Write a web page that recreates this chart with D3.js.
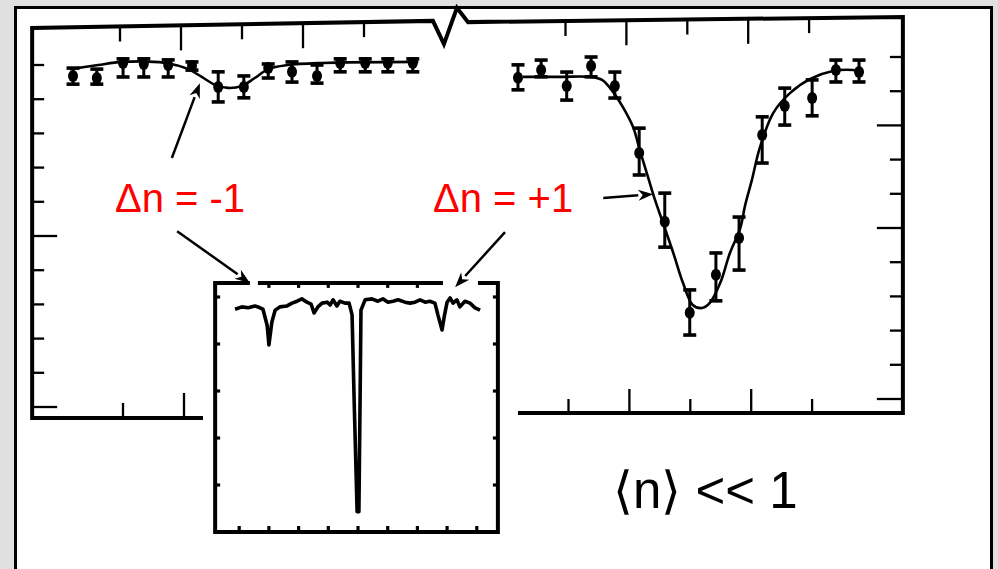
<!DOCTYPE html>
<html>
<head>
<meta charset="utf-8">
<script src="https://cdn.jsdelivr.net/npm/d3@7"></script>
<style>
  html, body { margin: 0; padding: 0; background: #e0e0e0; }
  svg { display: block; }
</style>
</head>
<body>
<svg id="chart" width="998" height="569"></svg>
<script>
// ---------- data ----------
// Lower (Δn = -1) sideband: detuning, fluorescence, error-bar limits
const lowerFreq   = [0.23, 0.62, 1.05, 1.39, 1.79, 2.18, 2.61, 3.03, 3.43, 3.82, 4.23, 4.61, 5.02, 5.39, 5.80];
const lowerSignal = [9.68, 9.62, 10.06, 10.03, 10.00, 9.97, 9.36, 9.36, 9.91, 9.80, 9.68, 10.06, 10.06, 10.06, 10.06];
const lowerErrHi  = [9.91, 9.88, 10.18, 10.18, 10.15, 10.09, 9.80, 9.68, 10.03, 10.09, 10.00, 10.18, 10.18, 10.18, 10.18];
const lowerErrLo  = [9.44, 9.44, 9.65, 9.65, 9.65, 9.85, 8.92, 9.04, 9.62, 9.50, 9.47, 9.80, 9.80, 9.80, 9.80];
// fitted line shape through the lower sideband
const lowerFitFreq   = [0.18, 0.64, 1.03, 1.74, 2.12, 2.34, 2.56, 2.77, 3.00, 3.21, 3.43, 3.75, 4.31, 5.89];
const lowerFitSignal = [9.88, 10.00, 10.09, 10.06, 9.88, 9.65, 9.42, 9.33, 9.39, 9.62, 9.88, 10.00, 10.06, 10.09];

// Upper (Δn = +1) sideband
const upperFreq   = [0.22, 0.60, 1.02, 1.42, 1.81, 2.21, 2.63, 3.04, 3.47, 3.85, 4.23, 4.60, 5.05, 5.44, 5.82];
const upperSignal = [9.39, 9.62, 9.15, 9.74, 9.15, 7.19, 5.18, 2.52, 3.63, 4.71, 7.72, 8.57, 8.80, 9.62, 9.56];
const upperErrHi  = [9.77, 9.91, 9.56, 10.00, 9.56, 7.92, 6.02, 3.19, 4.27, 5.32, 8.25, 9.09, 9.33, 9.91, 9.91];
const upperErrLo  = [9.04, 9.42, 8.74, 9.42, 8.80, 6.55, 4.44, 1.87, 2.87, 3.77, 6.90, 8.01, 8.28, 9.27, 9.27];
const upperFitFreq   = [0.30, 0.91, 1.40, 1.60, 1.78, 1.94, 2.11, 2.22, 2.36, 2.47, 2.60, 2.77, 2.93, 3.09, 3.24, 3.37,
                        3.54, 3.70, 3.87, 3.95, 4.06, 4.19, 4.41, 4.69, 5.02, 5.39, 5.72, 5.89];
const upperFitSignal = [9.42, 9.42, 9.42, 9.33, 8.98, 8.54, 7.95, 7.28, 6.46, 5.82, 5.15, 4.27, 3.39, 2.75, 2.66, 2.81,
                        3.39, 4.27, 5.00, 5.67, 6.40, 7.34, 8.36, 8.95, 9.36, 9.59, 9.62, 9.56];

// Inset: full spectrum (carrier plus both sidebands)
const spectrumFreq = [-4.14, -3.91, -3.70, -3.47, -3.30, -3.20, -3.06, -3.00, -2.90, -2.79, -2.63, -2.39, -2.22, -2.05,
  -1.89, -1.72, -1.58, -1.48, -1.35, -1.21, -1.04, -0.94, -0.84, -0.71, -0.61, -0.44, -0.30, -0.20, -0.13, -0.03,
  0.03, 0.07, 0.10, 0.24, 0.47, 0.67, 0.84, 1.01, 1.18, 1.35, 1.58, 1.75, 1.92, 2.09, 2.26, 2.42, 2.59, 2.69, 2.83,
  2.90, 3.00, 3.10, 3.20, 3.33, 3.43, 3.60, 3.77, 3.94, 4.11];
const spectrumSignal = [4.74, 4.79, 4.77, 4.81, 4.77, 4.74, 4.40, 3.98, 4.47, 4.72, 4.79, 4.81, 4.87, 4.91,
  4.96, 4.89, 4.85, 4.66, 4.79, 4.87, 4.89, 4.83, 4.94, 4.81, 4.91, 4.87, 4.87, 4.62, 2.81, 0.43,
  0.43, 2.81, 4.72, 4.94, 4.96, 4.91, 4.96, 4.89, 4.91, 4.94, 4.89, 4.87, 4.89, 4.94, 4.89, 4.91, 4.87, 4.62, 4.30,
  4.57, 4.89, 4.98, 4.87, 4.94, 4.79, 4.91, 4.87, 4.77, 4.72];

// Axis ticks
const mainXTicks = [1, 2, 3, 4, 5];
const mainXMajor = [2, 4];
const mainYTicks = [0, 1, 2, 3, 4, 5, 6, 7, 8, 9, 10];
const lowerYMajor = [0, 5];
const upperYMajor = [0, 5, 8];
const insetXTicks = [-4, -3, -2, -1, 0, 1, 2, 3, 4];
const insetTopTicks = [-3, -2, -1, 0, 1, 2];
const insetYTicks = [1, 2, 3, 4, 5];

// ---------- scales ----------
const xL = d3.scaleLinear().domain([1, 5]).range([120, 364]);
const yL = d3.scaleLinear().domain([0, 10]).range([407, 65]);
const xR = d3.scaleLinear().domain([1, 5]).range([565.5, 809.1]);
const yR = d3.scaleLinear().domain([0, 10]).range([399, 57]);
const xI = d3.scaleLinear().domain([-4, 4]).range([239.2, 476.8]);
const yI = d3.scaleLinear().domain([0, 5]).range([532, 297]);

// panel extents in data units
const L = { x0: -0.44, x1: 6.13, xb: 2.36, yb: -0.32, yt0: 11.08, yt1: 11.29 };
const R = { x0: -0.60, x1: 6.54, xb: 0.22, yb: -0.41, yt0: 11.02, yt1: 11.17 };
const I = { x0: -4.81, x1: 4.71, y0: 0, y1: 5.30, gaps: [[-3.64, -3.37], [2.86, 4.04]] };

const svg = d3.select('#chart');
const ink = '#000';

// slide frame
svg.append('rect').attr('width', 998).attr('height', 569).attr('fill', '#e0e0e0');
svg.append('rect').attr('x', 15.5).attr('y', 7.5).attr('width', 976).attr('height', 620)
  .attr('fill', '#fff').attr('stroke', ink).attr('stroke-width', 3);

const line = d3.line();

// top edge height as it runs across each panel
const topL = v => yL(L.yt0 + (L.yt1 - L.yt0) * (v - L.x0) / (L.x1 - L.x0));
const topR = v => yR(R.yt0 + (R.yt1 - R.yt0) * (v - R.x0) / (R.x1 - R.x0));

// main frame: left panel, broken top edge, right panel
const brk = [[xL(L.x1) + 11, yL(10.61)], [xL(L.x1) + 24, yL(11.67)]];
const frame = [
  [xL(L.xb), yL(L.yb)], [xL(L.x0), yL(L.yb)], [xL(L.x0), topL(L.x0)], [xL(L.x1), topL(L.x1)],
  brk[0], brk[1],
  [xR(R.x0), topR(R.x0)], [xR(R.x1), topR(R.x1)], [xR(R.x1), yR(R.yb)], [xR(R.xb), yR(R.yb)]
];
svg.append('path').attr('d', line(frame)).attr('fill', 'none').attr('stroke', ink)
  .attr('stroke-width', 4).attr('stroke-linejoin', 'miter');

const tickG = svg.append('g').attr('stroke', ink).attr('stroke-width', 2.3);
// top ticks
mainXTicks.forEach(t => {
  const len = mainXMajor.includes(t) ? 25 : 15;
  tickG.append('line').attr('x1', xL(t)).attr('x2', xL(t)).attr('y1', topL(t)).attr('y2', topL(t) + len);
  tickG.append('line').attr('x1', xR(t)).attr('x2', xR(t)).attr('y1', topR(t)).attr('y2', topR(t) + len);
});
// bottom ticks
mainXTicks.filter(t => t <= L.xb).forEach(t => {
  const len = mainXMajor.includes(t) ? 25 : 15;
  tickG.append('line').attr('x1', xL(t) + 3).attr('x2', xL(t) + 3).attr('y1', yL(L.yb)).attr('y2', yL(L.yb) - len);
});
mainXTicks.forEach(t => {
  const len = mainXMajor.includes(t) ? 24 : 14;
  tickG.append('line').attr('x1', xR(t) + 3).attr('x2', xR(t) + 3).attr('y1', yR(R.yb)).attr('y2', yR(R.yb) - len);
});
// side ticks
mainYTicks.forEach(t => {
  const lenL = lowerYMajor.includes(t) ? 25 : 12;
  tickG.append('line').attr('x1', xL(L.x0)).attr('x2', xL(L.x0) + lenL).attr('y1', yL(t)).attr('y2', yL(t));
  const lenR = upperYMajor.includes(t) ? 26 : 13;
  tickG.append('line').attr('x1', xR(R.x1)).attr('x2', xR(R.x1) - lenR).attr('y1', yR(t)).attr('y2', yR(t));
});

// fitted curves
const fitLine = (xs, ys) => d3.line().curve(d3.curveCatmullRom.alpha(0.5))
  .x(d => xs(d[0])).y(d => ys(d[1]));
svg.append('path')
  .attr('d', fitLine(xL, yL)(lowerFitFreq.map((f, i) => [f, lowerFitSignal[i]])))
  .attr('fill', 'none').attr('stroke', ink).attr('stroke-width', 2.6);
svg.append('path')
  .attr('d', fitLine(xR, yR)(upperFitFreq.map((f, i) => [f, upperFitSignal[i]])))
  .attr('fill', 'none').attr('stroke', ink).attr('stroke-width', 2.6);

// data points with error bars
function drawPoints(xs, ys, fx, sig, hi, lo) {
  const g = svg.append('g');
  const pts = fx.map((f, i) => ({ f, v: sig[i], hi: hi[i], lo: lo[i] }));
  g.selectAll('line.stem').data(pts).join('line')
    .attr('x1', d => xs(d.f)).attr('x2', d => xs(d.f))
    .attr('y1', d => ys(d.hi)).attr('y2', d => ys(d.lo))
    .attr('stroke', ink).attr('stroke-width', 3);
  ['hi', 'lo'].forEach(k => {
    g.selectAll('line.cap-' + k).data(pts).join('line')
      .attr('x1', d => xs(d.f) - 6.5).attr('x2', d => xs(d.f) + 6.5)
      .attr('y1', d => ys(d[k])).attr('y2', d => ys(d[k]))
      .attr('stroke', ink).attr('stroke-width', 3.6);
  });
  g.selectAll('ellipse').data(pts).join('ellipse')
    .attr('cx', d => xs(d.f)).attr('cy', d => ys(d.v))
    .attr('rx', 5).attr('ry', 6).attr('fill', ink);
}
drawPoints(xL, yL, lowerFreq, lowerSignal, lowerErrHi, lowerErrLo);
drawPoints(xR, yR, upperFreq, upperSignal, upperErrHi, upperErrLo);

// ---------- inset ----------
const inset = svg.append('g');
inset.append('rect').attr('x', xI(I.x0)).attr('y', yI(I.y1))
  .attr('width', xI(I.x1) - xI(I.x0)).attr('height', yI(I.y0) - yI(I.y1)).attr('fill', '#fff');
// frame with two openings in the top edge
const insetFrame = [[xI(I.gaps[0][0]), yI(I.y1)], [xI(I.x0), yI(I.y1)], [xI(I.x0), yI(I.y0)],
  [xI(I.x1), yI(I.y0)], [xI(I.x1), yI(I.y1)], [xI(I.gaps[1][1]), yI(I.y1)]];
inset.append('path').attr('d', line(insetFrame)).attr('fill', 'none').attr('stroke', ink).attr('stroke-width', 4);
inset.append('line').attr('x1', xI(I.gaps[0][1])).attr('x2', xI(I.gaps[1][0]))
  .attr('y1', yI(I.y1)).attr('y2', yI(I.y1)).attr('stroke', ink).attr('stroke-width', 4);
const iTicks = inset.append('g').attr('stroke', ink).attr('stroke-width', 3.2);
insetXTicks.forEach(t => iTicks.append('line').attr('x1', xI(t)).attr('x2', xI(t))
  .attr('y1', yI(I.y0)).attr('y2', yI(I.y0) - 6));
insetTopTicks.forEach(t => iTicks.append('line').attr('x1', xI(t)).attr('x2', xI(t))
  .attr('y1', yI(I.y1)).attr('y2', yI(I.y1) + 5));
insetYTicks.forEach(t => {
  iTicks.append('line').attr('x1', xI(I.x0)).attr('x2', xI(I.x0) + 5).attr('y1', yI(t)).attr('y2', yI(t));
  iTicks.append('line').attr('x1', xI(I.x1)).attr('x2', xI(I.x1) - 5).attr('y1', yI(t)).attr('y2', yI(t));
});
inset.append('path')
  .attr('d', d3.line().x(d => xI(d[0])).y(d => yI(d[1]))(spectrumFreq.map((f, i) => [f, spectrumSignal[i]])))
  .attr('fill', 'none').attr('stroke', ink).attr('stroke-width', 3.6).attr('stroke-linejoin', 'round');

// ---------- annotations ----------
function arrow(x1, y1, x2, y2) {
  const a = Math.atan2(y2 - y1, x2 - x1), hl = 15, hw = 5.5;
  const bx = x2 - hl * Math.cos(a), by = y2 - hl * Math.sin(a);
  svg.append('line').attr('x1', x1).attr('y1', y1).attr('x2', bx).attr('y2', by)
    .attr('stroke', ink).attr('stroke-width', 2.5);
  svg.append('path').attr('fill', ink).attr('d', line([
    [x2, y2],
    [bx + hw * Math.sin(a), by - hw * Math.cos(a)],
    [bx + 0.3 * hl * Math.cos(a), by + 0.3 * hl * Math.sin(a)],
    [bx - hw * Math.sin(a), by + hw * Math.cos(a)]
  ]) + 'Z');
}
arrow(xL(1.85), yL(7.28), xL(2.31), yL(9.47));
arrow(xI(-6.09), yI(6.40), xI(-3.64), yI(5.30));
arrow(xR(1.62), yR(5.88), xR(2.44), yR(5.99));
arrow(xI(4.95), yI(6.38), xI(3.27), yI(5.21));

const font = 'Arial, "Liberation Sans", sans-serif';
svg.append('text').attr('x', 115).attr('y', 212).attr('fill', '#ff0000')
  .style('font-family', font).style('font-size', '40px').text('Δn = -1');
svg.append('text').attr('x', 433).attr('y', 212).attr('fill', '#ff0000')
  .style('font-family', font).style('font-size', '40px').text('Δn = +1');
svg.append('text').attr('x', 613).attr('y', 508).attr('fill', '#000')
  .style('font-family', font).style('font-size', '51px').text('⟨n⟩ << 1');
</script>
</body>
</html>
